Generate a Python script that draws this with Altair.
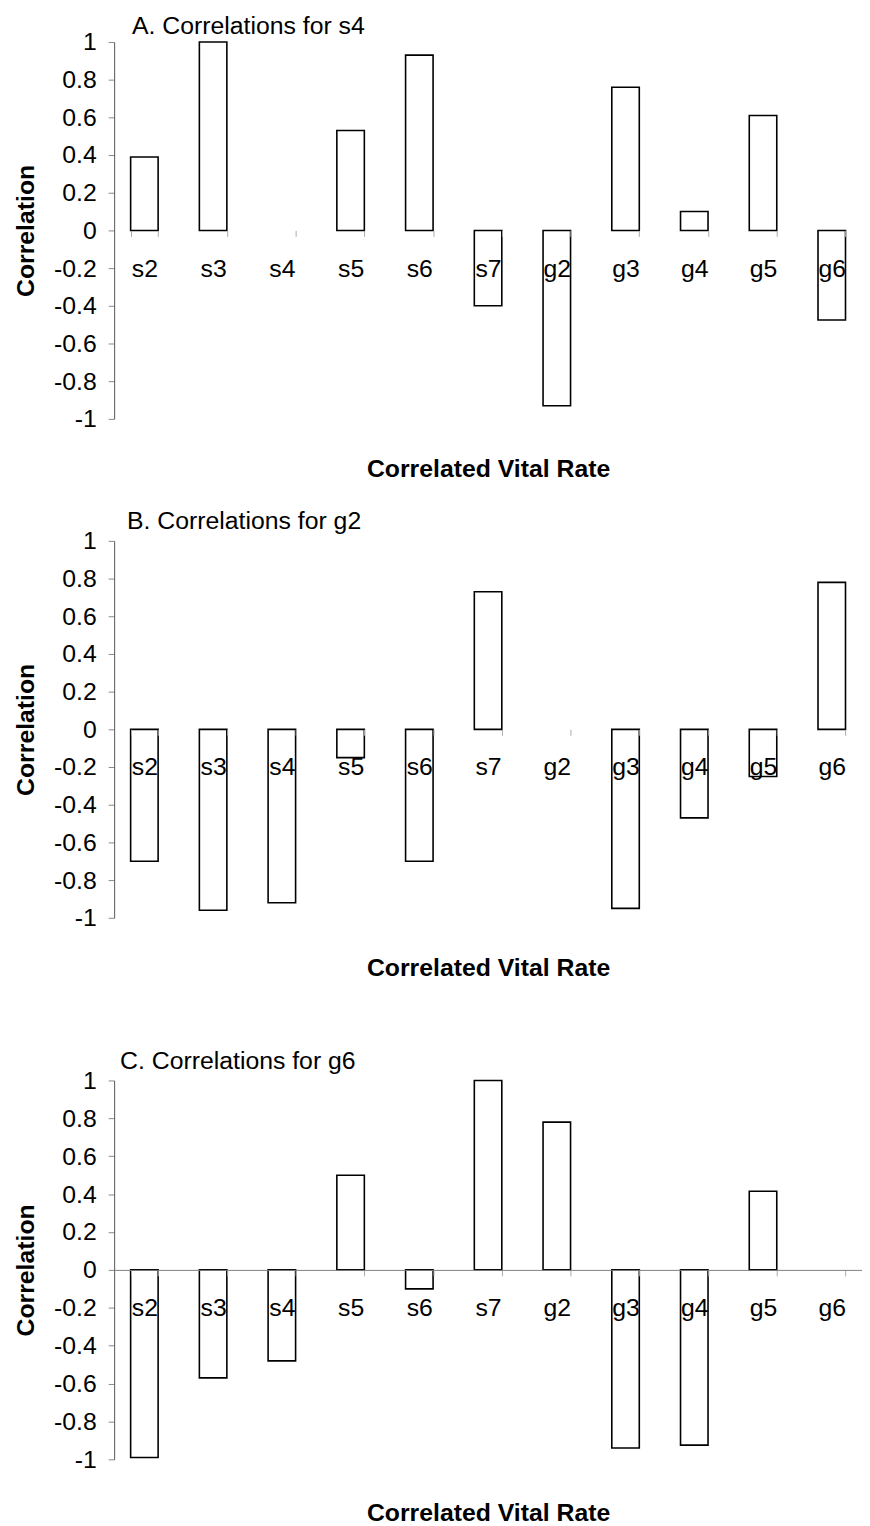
import altair as alt
import pandas as pd

cats = ["s2", "s3", "s4", "s5", "s6", "s7", "g2", "g3", "g4", "g5", "g6"]
a_vals = [0.39, 1.00, None, 0.53, 0.93, -0.40, -0.93, 0.76, 0.10, 0.61, -0.475]
b_vals = [-0.70, -0.96, -0.92, -0.15, -0.70, 0.73, None, -0.95, -0.47, -0.25, 0.78]
c_vals = [-0.99, -0.57, -0.48, 0.50, -0.10, 1.00, 0.78, -0.94, -0.925, 0.415, None]
y_ticks = [-1, -0.8, -0.6, -0.4, -0.2, 0, 0.2, 0.4, 0.6, 0.8, 1]

titles = ["A. Correlations for s4", "B. Correlations for g2", "C. Correlations for g6"]
x_title = "Correlated Vital Rate"
y_title = "Correlation"

FONT = "Liberation Sans"
FS = 25


def panel(title, vals, dx, height, show_domain, tpad, toff):
    df = pd.DataFrame({"rate": cats, "corr": vals}).dropna()
    return (
        alt.Chart(
            df,
            title=alt.TitleParams(
                title, anchor="start", frame="group", dx=dx, fontSize=FS,
                fontWeight="normal", offset=toff, color="black", font=FONT,
            ),
        )
        .mark_bar(fill="white", stroke="black", strokeWidth=1.6)
        .encode(
            x=alt.X(
                "rate:N",
                sort=cats,
                scale=alt.Scale(domain=cats, paddingInner=0.6, paddingOuter=0.24),
                axis=alt.Axis(
                    title=x_title, orient="bottom", offset=-height / 2,
                    labelAngle=0, labelFontSize=FS, labelPadding=20, labelColor="black",
                    labelFont=FONT, tickSize=6, tickBand="extent", tickColor="#aaaaaa",
                    domain=show_domain, domainColor="#808080", domainWidth=1,
                    titleFontSize=FS, titleFontWeight="bold", titleFont=FONT,
                    titleColor="black", titlePadding=tpad, zindex=1, grid=False,
                ),
            ),
            y=alt.Y(
                "corr:Q",
                scale=alt.Scale(domain=[-1, 1], nice=False),
                axis=alt.Axis(
                    values=y_ticks,
                    labelExpr="datum.value == 0 ? '0' : (datum.value < 0 ? '-' + format(-datum.value, '~g') : format(datum.value, '~g'))",
                    title=y_title, labelFontSize=FS, labelColor="black", labelFont=FONT,
                    labelPadding=12, tickSize=6, tickColor="#888888",
                    domainColor="#555555", domainWidth=1, grid=False,
                    titleFontSize=FS, titleFontWeight="bold", titleFont=FONT,
                    titleColor="black", titlePadding=15,
                ),
            ),
        )
        .properties(width=754, height=height)
    )


pa = panel(titles[0], a_vals, 18, 380, False, 177, -9)
pb = panel(titles[1], b_vals, 13, 380, False, 177, -5)
pc = panel(titles[2], c_vals, 6, 382, True, 182, -5)

chart = (
    alt.vconcat(alt.vconcat(pa, pb, spacing=28), pc, spacing=69)
    .properties(padding={"left": 5, "top": 0, "right": 0, "bottom": 0})
    .configure(font=FONT)
    .configure_view(stroke=None)
)

chart.save("out.html", embed_options={"renderer": "svg", "actions": False})
